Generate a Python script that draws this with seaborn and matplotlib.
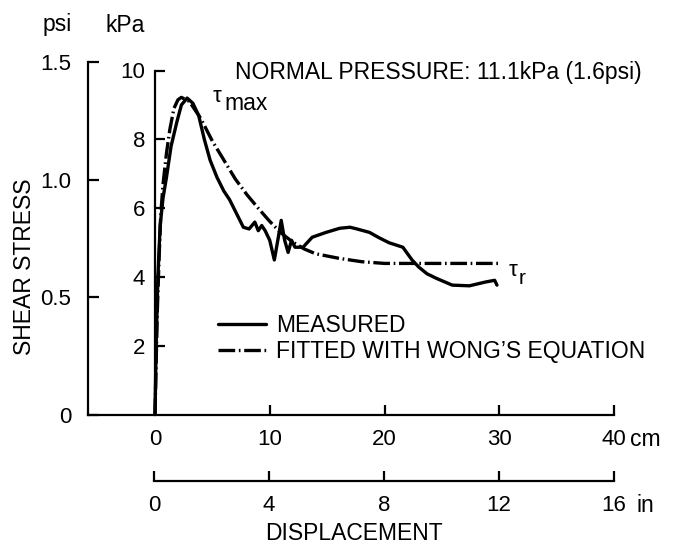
import matplotlib
matplotlib.use("Agg")
import matplotlib.pyplot as plt
import seaborn as sns
import pandas as pd

# ---- data (displacement in cm, shear stress in kPa) ----
meas_x = [0, 0.1, 0.25, 0.45, 0.7, 1.0, 1.4, 1.9, 2.3, 2.8, 3.3, 3.8, 4.3, 4.8, 5.4, 6.0,
          6.5, 7.1, 7.7, 8.2, 8.7, 9.0, 9.3, 9.6, 10.0, 10.4, 10.7, 11.0, 11.3, 11.6, 11.9,
          12.2, 12.9, 13.7, 14.9, 16.1, 17.0, 17.6, 18.7, 19.5, 20.4, 21.6, 22.4, 23.0,
          23.7, 24.5, 25.9, 27.4, 28.8, 29.6, 29.8]
meas_y = [0, 2.0, 4.0, 5.5, 6.3, 6.9, 7.8, 8.5, 9.0, 9.2, 9.05, 8.7, 8.0, 7.4, 6.9, 6.5,
          6.25, 5.85, 5.45, 5.4, 5.6, 5.35, 5.5, 5.35, 5.07, 4.5, 5.07, 5.65, 5.07, 4.72, 5.07,
          4.87, 4.87, 5.16, 5.3, 5.42, 5.45, 5.4, 5.3, 5.15, 5.0, 4.87, 4.5, 4.29,
          4.1, 3.97, 3.77, 3.75, 3.86, 3.91, 3.77]
fit_x = [0, 0.1, 0.2, 0.35, 0.5, 0.7, 1.0, 1.3, 1.65, 2.0, 2.3, 3.0, 4.0, 5.0, 6.0, 7.0,
         8.0, 9.0, 10.0, 11.0, 12.0, 13.0, 14.0, 16.0, 18.0, 20.0, 22.0, 25.0, 30.2]
fit_y = [0, 1.5, 3.0, 4.5, 5.8, 6.7, 7.6, 8.3, 8.9, 9.15, 9.22, 9.1, 8.6, 7.95, 7.4, 6.85,
         6.4, 6.0, 5.62, 5.28, 5.02, 4.82, 4.68, 4.55, 4.45, 4.4, 4.4, 4.4, 4.4]

kpa_ticks = [2, 4, 6, 8, 10]
psi_ticks = [0, 0.5, 1.0, 1.5]
psi_labels = ["0", "0.5", "1.0", "1.5"]
cm_ticks = [0, 10, 20, 30, 40]
in_ticks = [0, 4, 8, 12, 16]
legend_labels = ["MEASURED", "FITTED WITH WONG\u2019S EQUATION"]

sns.set_theme(style="white")
plt.rcParams["font.family"] = ["Liberation Sans", "DejaVu Sans"]

W, H = 673, 551
fig = plt.figure(figsize=(W / 100, H / 100), dpi=100)

TXT = 16.5
TICK = 16

# pixel geometry
px_left, px_right, px_bottom, px_top = 88, 614, 415, 61
px0 = 155
sx = (px_right - px0) / 40.0
x0 = -(px0 - px_left) / sx

ax = fig.add_axes([px_left / W, (H - px_bottom) / H, (px_right - px_left) / W,
                   (px_bottom - px_top) / H])
ax.set_facecolor("none")
ax.set_xlim(x0, 40)
ax.set_ylim(0, (px_bottom - px_top) / 34.45)

df_m = pd.DataFrame({"x": meas_x, "y": meas_y})
df_f = pd.DataFrame({"x": fit_x, "y": fit_y})
sns.lineplot(data=df_m, x="x", y="y", ax=ax, sort=False, estimator=None,
             color="black", lw=2.4, label=legend_labels[0])
sns.lineplot(data=df_f, x="x", y="y", ax=ax, sort=False, estimator=None,
             color="black", lw=2.4, dashes=False, label=legend_labels[1])
ax.lines[1].set_linestyle((0, (5, 1.1, 0.5, 1.1)))

for s in ["top", "right"]:
    ax.spines[s].set_visible(False)
ax.spines["left"].set_position(("data", 0))
ax.spines["left"].set_bounds(0, 10)
ax.spines["bottom"].set_bounds(x0, 40)
for s in ["left", "bottom"]:
    ax.spines[s].set_color("black")
    ax.spines[s].set_linewidth(1.6)
ax.set_yticks(kpa_ticks)
ax.set_yticklabels([str(t) for t in kpa_ticks])
ax.set_xticks(cm_ticks)
ax.set_xticklabels([str(t) for t in cm_ticks])
ax.tick_params(axis="both", direction="in", length=7, width=1.6, color="black",
               labelsize=TICK, labelcolor="black", bottom=True, left=True)
ax.tick_params(axis="y", pad=7)
ax.tick_params(axis="x", pad=10)
ax.set_xlabel("")
ax.set_ylabel("")

# psi axis
ax2 = ax.twinx()
ax2.set_ylim(0, (px_bottom - px_top) / 235.3)
for s in ["top", "right", "bottom"]:
    ax2.spines[s].set_visible(False)
ax2.spines["left"].set_visible(True)
ax2.spines["left"].set_position(("axes", 0))
ax2.spines["left"].set_bounds(0, 1.5)
ax2.spines["left"].set_color("black")
ax2.spines["left"].set_linewidth(1.6)
ax2.yaxis.set_ticks_position("left")
ax2.yaxis.set_label_position("left")
ax2.set_yticks(psi_ticks)
ax2.set_yticklabels(psi_labels)
ax2.tick_params(axis="y", direction="in", length=8, width=1.6, color="black",
                labelsize=TICK, labelcolor="black", pad=12, left=True, right=False)
ax2.grid(False)

# inch axis
ax3 = fig.add_axes([px_left / W, (H - 481) / H, (px_right - px_left) / W, 0.001])
ax3.set_facecolor("none")
ax3.set_xlim(x0 / 2.54, 40 / 2.54)
for s in ["top", "right", "left"]:
    ax3.spines[s].set_visible(False)
ax3.spines["bottom"].set_bounds(0, 16)
ax3.spines["bottom"].set_color("black")
ax3.spines["bottom"].set_linewidth(1.6)
ax3.set_yticks([])
ax3.set_xticks(in_ticks)
ax3.set_xticklabels([str(t) for t in in_ticks])
ax3.tick_params(axis="x", direction="in", length=7, width=1.6, color="black",
                labelsize=TICK, labelcolor="black", pad=10, bottom=True)

# legend
leg = ax.legend(loc="center left", bbox_to_anchor=(218 / W, 1 - 338.5 / H),
                bbox_transform=fig.transFigure, frameon=False, fontsize=TXT,
                handlelength=2.1, handletextpad=0.45, labelspacing=0.12,
                borderpad=0, borderaxespad=0)
for t in leg.get_texts():
    t.set_color("black")


def ftxt(px, py, s, **kw):
    kw.setdefault("fontsize", TXT)
    kw.setdefault("color", "black")
    fig.text(px / W, 1 - py / H, s, **kw)


ftxt(57, 25, "psi", ha="center", va="center")
ftxt(125, 25, "kPa", ha="center", va="center")
ftxt(25, 267, "SHEAR STRESS", ha="center", va="center", rotation=90)
ftxt(235, 72, "NORMAL PRESSURE: 11.1kPa (1.6psi)", ha="left", va="center")
ftxt(213, 96, "\u03c4", ha="left", va="center", fontsize=16)
ftxt(224, 103, "max", ha="left", va="center")
ftxt(509, 270, "\u03c4", ha="left", va="center", fontsize=16)
ftxt(519, 278, "r", ha="left", va="center", fontsize=15)
ftxt(630, 440, "cm", ha="left", va="center")
ftxt(637, 505, "in", ha="left", va="center")
ftxt(354, 533, "DISPLACEMENT", ha="center", va="center")

fig.savefig("out.png", dpi=100)
